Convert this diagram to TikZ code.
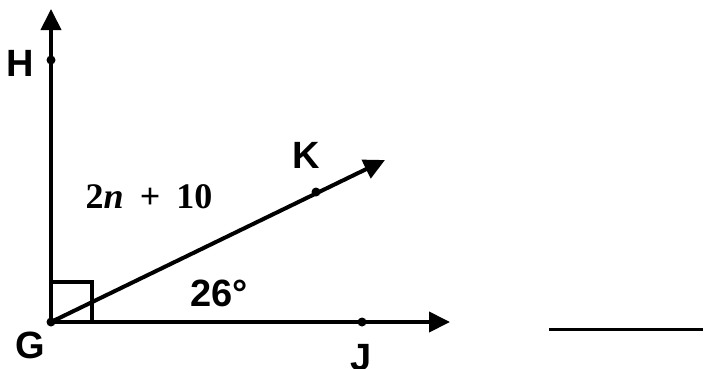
\documentclass[tikz,border=0pt]{standalone}
\usepackage{fontspec}
\setmainfont{Liberation Sans}
\newfontfamily\timesbold{Liberation Serif}
\usetikzlibrary{arrows.meta,positioning}

\begin{document}
\begin{tikzpicture}[
    x=1pt, y=-1pt,
    ray/.style={line width=4pt, -{Triangle[length=21pt, width=20pt]}},
    edge/.style={line width=3.5pt},
    dot/.style={circle, fill, inner sep=0pt, minimum size=9pt},
    ptlabel/.style={inner sep=0pt, font=\fontsize{38}{42}\selectfont\bfseries},
    measlabel/.style={inner sep=0pt, font=\fontsize{36}{40}\selectfont\timesbold\bfseries}
]
\useasboundingbox (0,0) rectangle (712,368);
% points on the rays
\node[dot] (G) at (51,322) {};
\node[dot] (H) at (51,60) {};
\node[dot] (K) at (316,192) {};
\node[dot] (J) at (362,322) {};
\coordinate (Htip) at (51,9);
\coordinate (Ktip) at (385,160);
\coordinate (Jtip) at (450,322);
% rays
\draw[ray] (G.center) -- (Htip);
\draw[ray] (G.center) -- (Ktip);
\draw[ray] (G.center) -- (Jtip);
% right angle mark
\coordinate (sqA) at (51,282);
\coordinate (sqB) at (92,322);
\draw[edge] (sqA) -| (sqB);
% labels
\node[ptlabel] (Hlab) at (20,63) {H};
\node[ptlabel] (Glab) at (30,345) {G};
\node[ptlabel] (Klab) at (306,155) {K};
\node[ptlabel] (Jlab) at (361,358) {J};
\node[measlabel] (angHGK) at (149,197) {2\textit{n}\hspace{0.45em}+\hspace{0.45em}10};
\node[ptlabel] (angKGJ) at (219,293) {26°};
% answer blank
\coordinate (blankL) at (549,329);
\coordinate (blankR) at (703,329);
\draw[line width=3pt] (blankL) -- (blankR);
\end{tikzpicture}
\end{document}
